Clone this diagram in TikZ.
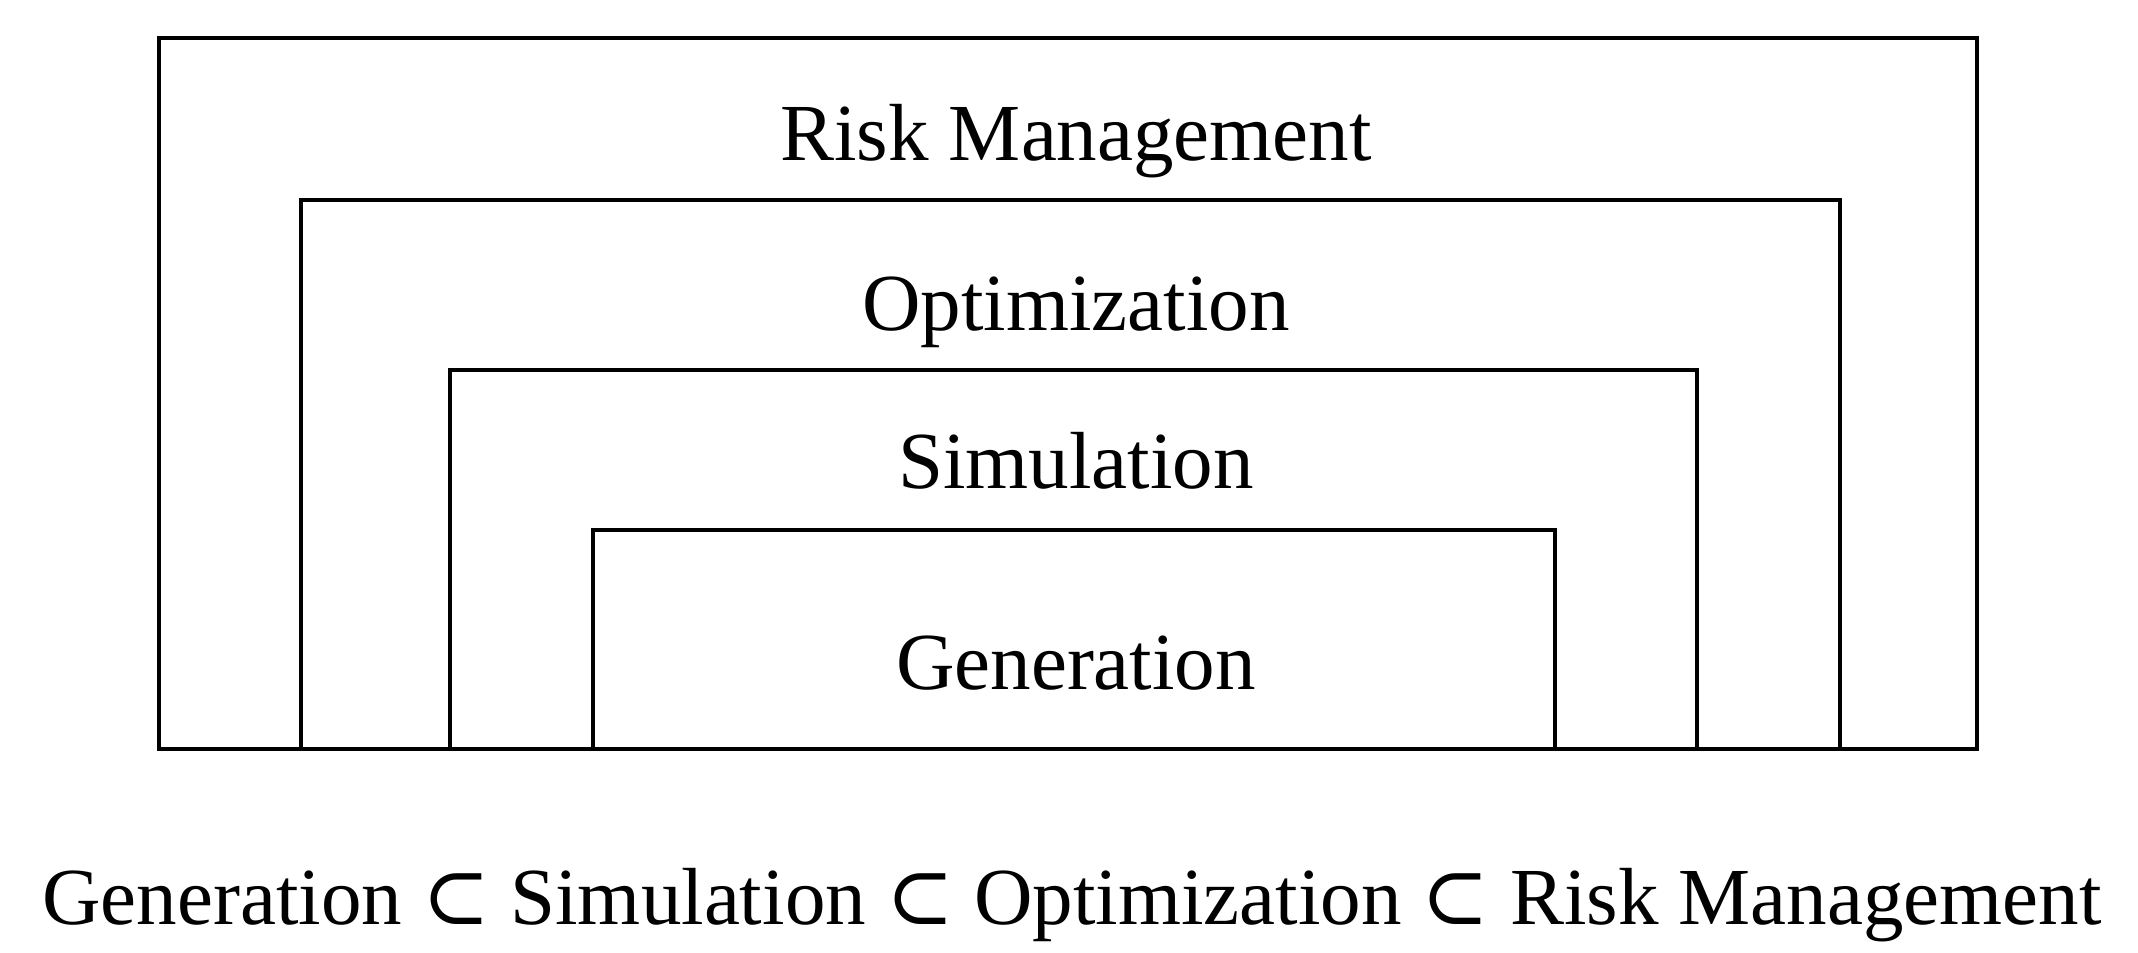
\documentclass[tikz,border=0pt]{standalone}
\usepackage{fontspec}
\setmainfont{Liberation Serif}
\newfontfamily\symfam{DejaVu Serif}
\newcommand{\subsetsym}{{\symfam ⊂}}
\begin{document}
\begin{tikzpicture}[x=0.5pt,y=-0.5pt,
  layer/.style={draw=black,line width=1.6pt},
  lbl/.style={anchor=base,inner sep=0pt,font=\fontsize{40.5}{48}\selectfont}]
\useasboundingbox[fill=white] (0,0) rectangle (2138,953);
\draw[layer] (159,38) rectangle (1977,749);
\draw[layer] (301,200) rectangle (1840,749);
\draw[layer] (450,370) rectangle (1697,749);
\draw[layer] (593,530) rectangle (1555,749);
\node[lbl] (risk) at (1076,160) {Risk Management};
\node[lbl] (opt) at (1076,330) {Optimization};
\node[lbl] (sim) at (1076,488) {Simulation};
\node[lbl] (gen) at (1076,689) {Generation};
\node[lbl] (formula) at (1072,924) {Generation \subsetsym{} Simulation \subsetsym{} Optimization \subsetsym{} Risk Management};
\end{tikzpicture}
\end{document}
